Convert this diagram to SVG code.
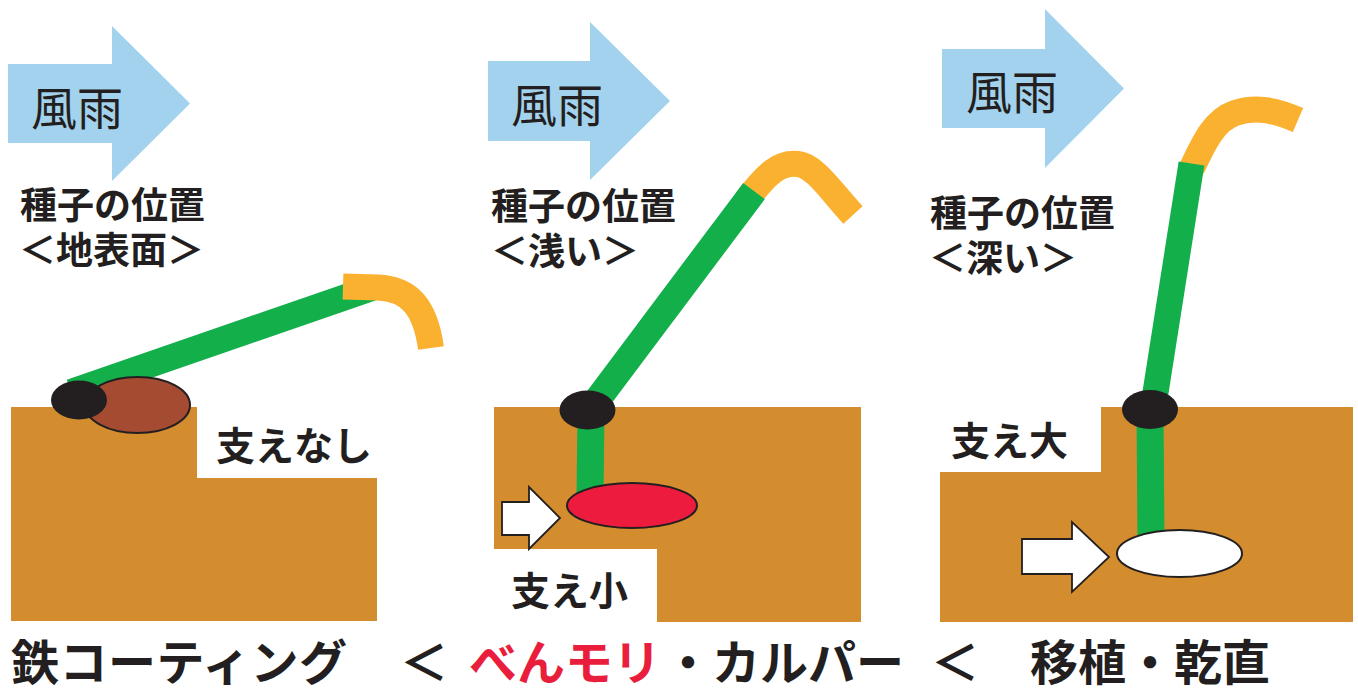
<svg xmlns="http://www.w3.org/2000/svg" width="1358" height="688" viewBox="0 0 1358 688">
  <style>
    .jp { font-family: "Noto Sans CJK JP", "Noto Sans", sans-serif; fill: #231F20; }
    .wind { fill: #A2D2ED; }
    .windtxt { font-size: 46px; font-weight: 400; }
    .title { font-size: 37px; font-weight: 700; }
    .support { font-size: 39px; font-weight: 700; }
    .bottom { font-size: 48px; font-weight: 700; }
    .red { fill: #E91E3C; }
    .soil { fill: #D38D2E; }
    .stem { fill: none; stroke: #12AF4B; stroke-width: 26; stroke-linecap: butt; }
    .tip { fill: none; stroke: #FBB130; stroke-width: 26; stroke-linecap: butt; stroke-linejoin: round; }
    .node { fill: #231F20; }
    .seedline { stroke: #231F20; stroke-width: 2; }
    .push { fill: #FFFFFF; stroke: #231F20; stroke-width: 1.8; stroke-linejoin: miter; }
  </style>

  <!-- Panel 1: seed on the surface (iron coating) -->
  <g id="panel-surface">
    <polygon class="wind" points="8,64 112,64 112,26 190,103.5 112,181 112,143 8,143"/>
    <text class="jp windtxt" x="31" y="125">風雨</text>
    <text class="jp title" x="20" y="219">種子の位置</text>
    <text class="jp title" x="19" y="264">＜地表面＞</text>
    <polygon class="soil" points="11,407 197,407 197,478 377,478 377,621 11,621"/>
    <line class="stem" x1="71" y1="392" x2="372" y2="288"/>
    <path class="tip" d="M343,286.5 L378,287.5 C408,289 425,305 431,348"/>
    <ellipse class="seedline" cx="137.5" cy="405" rx="52.5" ry="28" fill="#A54B31"/>
    <ellipse class="node" cx="79" cy="400" rx="28" ry="19.5"/>
    <text class="jp support" x="216" y="460">支えなし</text>
  </g>

  <!-- Panel 2: shallow seed (benmori / calper) -->
  <g id="panel-shallow">
    <polygon class="wind" points="488,61 590,61 590,22 670,101 590,180 590,141 488,141"/>
    <text class="jp windtxt" x="511" y="122">風雨</text>
    <text class="jp title" x="491" y="220">種子の位置</text>
    <text class="jp title" x="491" y="265">＜浅い＞</text>
    <polygon class="soil" points="494,407 861,407 861,622 657,622 657,549 494,549"/>
    <path class="tip" d="M746,201 C768,172 780,162 798,164 C815,166 830,190 853,215"/>
    <line class="stem" x1="754" y1="191" x2="592" y2="407" style="stroke-width:27"/>
    <line class="stem" x1="591" y1="410" x2="590" y2="497" style="stroke-width:27"/>
    <ellipse class="node" cx="587.5" cy="410" rx="28" ry="19.5"/>
    <ellipse class="seedline" cx="632" cy="505.5" rx="65" ry="22.5" fill="#ED1B3D"/>
    <polygon class="push" points="502,502 529,502 529,487 560,518 529,549 529,535 502,535"/>
    <text class="jp support" x="511" y="605">支え小</text>
  </g>

  <!-- Panel 3: deep seed (transplant / dry direct seeding) -->
  <g id="panel-deep">
    <polygon class="wind" points="942,49 1045,49 1045,9 1124,88.5 1045,168 1045,128 942,128"/>
    <text class="jp windtxt" x="966" y="109">風雨</text>
    <text class="jp title" x="930" y="227">種子の位置</text>
    <text class="jp title" x="929" y="272">＜深い＞</text>
    <polygon class="soil" points="1101,407 1353,407 1353,622 940,622 940,472 1101,472"/>
    <path class="tip" d="M1192,168 C1205,140 1215,120 1235,113 C1255,106 1275,110 1298,120"/>
    <line class="stem" x1="1191.5" y1="163.5" x2="1154" y2="402"/>
    <line class="stem" x1="1150" y1="410" x2="1151" y2="541" style="stroke-width:27"/>
    <ellipse class="node" cx="1150" cy="409.5" rx="28" ry="19.5"/>
    <ellipse class="seedline" cx="1179.5" cy="553.5" rx="62.5" ry="23.5" fill="#FFFFFF"/>
    <polygon class="push" points="1022,539 1072,539 1072,522 1109,557 1072,592 1072,574 1022,574"/>
    <text class="jp support" x="951" y="455">支え大</text>
  </g>

  <!-- Comparison line along the bottom -->
  <g id="comparison">
    <text class="jp bottom" x="11" y="680" textLength="336">鉄コーティング</text>
    <text class="jp bottom" x="400" y="680">＜</text>
    <text class="jp bottom red" x="469" y="680">べんモリ</text>
    <text class="jp bottom" x="664" y="680">・カルパー</text>
    <text class="jp bottom" x="931" y="680">＜</text>
    <text class="jp bottom" x="1030" y="680">移植・乾直</text>
  </g>
</svg>
